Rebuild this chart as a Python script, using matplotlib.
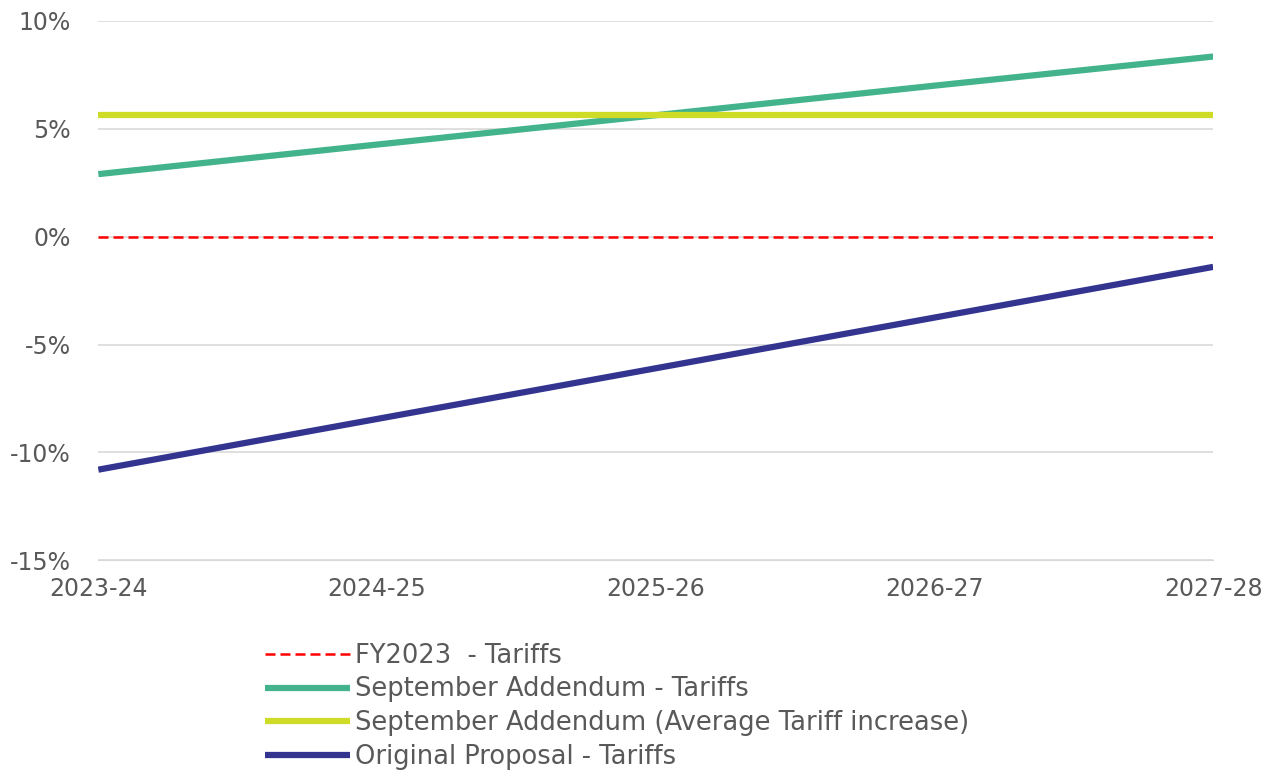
import matplotlib.pyplot as plt
import matplotlib

matplotlib.rcParams['font.family'] = ['DejaVu Sans']
matplotlib.rcParams['font.size'] = 17

years = ['2023-24', '2024-25', '2025-26', '2026-27', '2027-28']
fy2023 = [0, 0, 0, 0, 0]
sept_tariffs = [2.9, 4.27, 5.63, 7.0, 8.35]
sept_avg = [5.65, 5.65, 5.65, 5.65, 5.65]
original = [-10.8, -8.45, -6.1, -3.75, -1.4]

fig = plt.figure(figsize=(12.77, 7.76), dpi=100)
ax = fig.add_axes([0.077, 0.278, 0.873, 0.695])

x = range(len(years))
ax.plot(x, fy2023, color='#FF0000', lw=1.8, ls=(0, (4, 2)), label='FY2023  - Tariffs')
ax.plot(x, sept_tariffs, color='#43B38C', lw=4.5, solid_capstyle='butt', label='September Addendum - Tariffs')
ax.plot(x, sept_avg, color='#CEDC28', lw=4.5, solid_capstyle='butt', label='September Addendum (Average Tariff increase)')
ax.plot(x, original, color='#33348F', lw=4.5, solid_capstyle='butt', label='Original Proposal - Tariffs')

ax.set_xlim(0, len(years) - 1)
ax.set_ylim(-15, 10)
ax.set_yticks([-15, -10, -5, 0, 5, 10])
ax.set_yticklabels([f'{v}%' for v in [-15, -10, -5, 0, 5, 10]])
ax.set_xticks(list(x))
ax.set_xticklabels(years)
ax.yaxis.grid(True, color='#D9D9D9', lw=1.2)
ax.set_axisbelow(True)
for s in ['top', 'right', 'left']:
    ax.spines[s].set_visible(False)
ax.spines['bottom'].set_color('#D9D9D9')
ax.tick_params(length=0, colors='#595959', labelsize=17)
ax.tick_params(axis='y', pad=20)
ax.tick_params(axis='x', pad=12)

leg = fig.legend(loc='upper left', bbox_to_anchor=(265 / 1277, 0.172), frameon=False,
                 fontsize=18.5, handlelength=3.3, handletextpad=0.2, labelspacing=0.31,
                 borderaxespad=0, borderpad=0)
for t in leg.get_texts():
    t.set_color('#595959')

fig.savefig('out.png', dpi=100)
